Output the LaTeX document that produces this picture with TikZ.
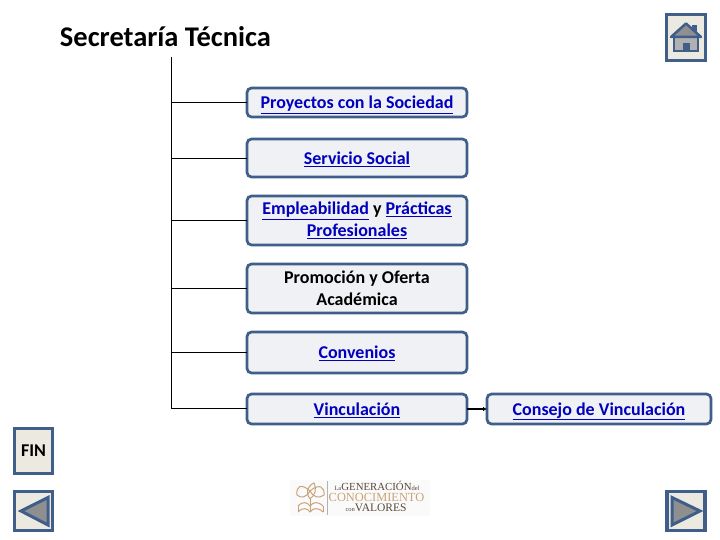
\documentclass[tikz,border=0pt]{standalone}
\usepackage{fontspec}
\usetikzlibrary{arrows.meta}
\setmainfont{Carlito}
\newfontfamily\logofont{Liberation Serif}
\definecolor{edgeblue}{HTML}{3F5F8A}
\definecolor{boxfill}{HTML}{F0F1F4}
\definecolor{btnfill}{HTML}{ECE9E1}
\definecolor{btngray}{HTML}{8F8F8F}
\definecolor{linkblue}{HTML}{0000BE}
\definecolor{logotan}{HTML}{C9A377}
\definecolor{logodark}{HTML}{5A4A3A}
\newcommand{\lnk}[1]{\textcolor{linkblue}{\underline{#1}}}
\tikzset{
  orgbox/.style={draw=edgeblue,fill=boxfill,line width=2.7pt,rounded corners=4.5pt,
    inner sep=0pt,outer sep=0pt,align=center,font=\fontsize{18}{22}\selectfont\bfseries,text=black},
  oneline/.style={text height=12.5pt,text depth=0pt},
  btn/.style={draw=edgeblue,fill=btnfill,line width=3.6pt,inner sep=0pt,outer sep=0pt},
  conn/.style={draw=black,line width=0.9pt},
  icon/.style={draw=edgeblue,fill=btngray,line width=3pt,line join=miter}
}
\begin{document}
\begin{tikzpicture}[x=1pt,y=-1pt]
\useasboundingbox (0,0) rectangle (720,540);
\node[anchor=center,font=\fontsize{28.5}{32}\selectfont\bfseries,text=black] (title) at (165.5,37) {Secretaría Técnica};
\coordinate (top) at (171,57);
\coordinate (bot) at (171,408);
\node[orgbox,oneline,minimum width=220pt,minimum height=29pt] (b1) at (357,102.5) {\lnk{Proyectos con la Sociedad}};
\node[orgbox,oneline,minimum width=220pt,minimum height=38pt] (b2) at (357,158) {\lnk{Servicio Social}};
\node[orgbox,minimum width=220pt,minimum height=49pt] (b3) at (357,220.5) {\lnk{Empleabilidad} y \lnk{Prácticas}\\\lnk{Profesionales}};
\node[orgbox,minimum width=220pt,minimum height=49pt] (b4) at (357,288.5) {Promoción y Oferta\\Académica};
\node[orgbox,oneline,minimum width=220pt,minimum height=41pt] (b5) at (357,352.5) {\lnk{Convenios}};
\node[orgbox,oneline,minimum width=220pt,minimum height=30pt] (b6) at (357,409) {\lnk{Vinculación}};
\node[orgbox,oneline,minimum width=224pt,minimum height=30pt] (b7) at (599,409) {\lnk{Consejo de Vinculación}};
\draw[conn] (top) -- (bot);
\foreach \n in {b1,b2,b3,b4,b5}{\draw[conn] (\n.west -| top) -- (\n.west);}
\draw[conn] (bot) -- (b6.west |- bot);
\draw[conn,line width=1.2pt,-{Latex[length=4pt,width=4.5pt]}] (b6.east) -- (b7.west);
% home button
\node[btn,minimum width=39pt,minimum height=46pt] (home) at (686,37.5) {};
\fill[edgeblue] (692,25) rectangle (697,33);
\draw[draw=edgeblue,fill=btngray!70!white,line width=2.5pt] (674,36) rectangle (698,51);
\fill[edgeblue] (682.5,51) rectangle (689.5,43);
\draw[icon,fill=btngray,line width=2.5pt,line join=round] (671,37) -- (686,23.5) -- (701,37) -- cycle;
% fin
\node[btn,minimum width=38pt,minimum height=45pt,font=\fontsize{18}{20}\selectfont\bfseries,text=black] (fin) at (33.5,451) {\raisebox{-1pt}{FIN}};
% back
\node[btn,minimum width=38pt,minimum height=39pt] (back) at (33.5,511) {};
\draw[icon] (21,511) -- (48,497.5) -- (48,525) -- cycle;
% forward
\node[btn,minimum width=38pt,minimum height=39pt] (next) at (686,511) {};
\draw[icon] (700,511) -- (672,497.5) -- (672,525) -- cycle;
% logo
\fill[gray!4] (290,480) rectangle (430,516);
\draw[gray!60,line width=0.7pt] (327,481) -- (327,515);
\begin{scope}[draw=logotan,line width=1pt]
\draw (310,491) .. controls (301,483) and (296,486) .. (297,495) .. controls (301,499) and (307,497) .. (310,491);
\draw (310,491) .. controls (319,483) and (325,487) .. (324,495) .. controls (319,499) and (313,497) .. (310,491);
\draw (310,499) .. controls (304,491) and (310,484) .. (314,483) .. controls (317,490) and (315,495) .. (310,499);
\draw (298,512) .. controls (303,507) and (307,508) .. (310,512) .. controls (313,508) and (318,507) .. (323,512);
\draw (298,506) .. controls (303,501) and (307,502) .. (310,506) .. controls (313,502) and (318,501) .. (323,506);
\draw (298,506) -- (298,512) (323,506) -- (323,512) (310,499) -- (310,512);
\end{scope}
\node[inner sep=0pt,font=\logofont\fontsize{10.8}{11}\selectfont,text=logodark] (lg1) at (377,485.5) {{\fontsize{6.5}{7}\selectfont La}GENERACIÓN{\fontsize{6.5}{7}\selectfont del}};
\node[inner sep=0pt,font=\logofont\fontsize{12.4}{13}\selectfont,text=logotan] (lg2) at (376.5,497) {CONOCIMIENTO};
\node[inner sep=0pt,font=\logofont\fontsize{11.5}{12}\selectfont,text=logodark] (lg3) at (376,508) {{\fontsize{6.5}{7}\selectfont con}VALORES};
\end{tikzpicture}
\end{document}
